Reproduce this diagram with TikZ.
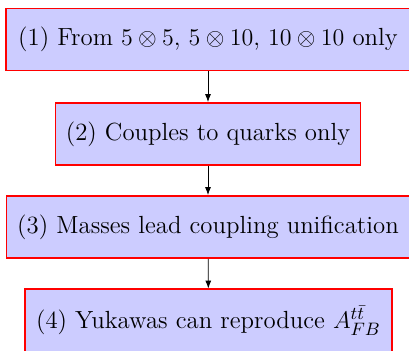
\documentclass[tikz,border=0pt]{standalone}
\usetikzlibrary{arrows.meta}
\begin{document}
\begin{tikzpicture}[x=0.5pt,y=-0.5pt,
  blockbox/.style={rectangle, draw=red, line width=0.9pt, fill=blue!20, inner sep=0pt, minimum height=31pt, align=center, font=\fontsize{12.4}{14.8}\selectfont},
  flowarrow/.style={-{Latex[length=4pt,width=3pt]}, black}]
\useasboundingbox (0,0) rectangle (409,350);
\node[blockbox, minimum width=202pt] (b1) at (208,39.5) {(1) From $5\otimes 5$, $5\otimes 10$, $10\otimes 10$ only};
\node[blockbox, minimum width=152.5pt] (b2) at (208,134) {(2) Couples to quarks only};
\node[blockbox, minimum width=201.5pt] (b3) at (208,227) {(3) Masses lead coupling unification};
\node[blockbox, minimum width=183pt] (b4) at (208.5,320.5) {(4) Yukawas can reproduce $A_{FB}^{t\bar t}$};
\draw[flowarrow] (b1) -- (b2);
\draw[flowarrow] (b2) -- (b3);
\draw[flowarrow] (b3) -- (b4);
\draw[red, line width=0.9pt] (b4.south west) rectangle (b4.north east);
\end{tikzpicture}
\end{document}
